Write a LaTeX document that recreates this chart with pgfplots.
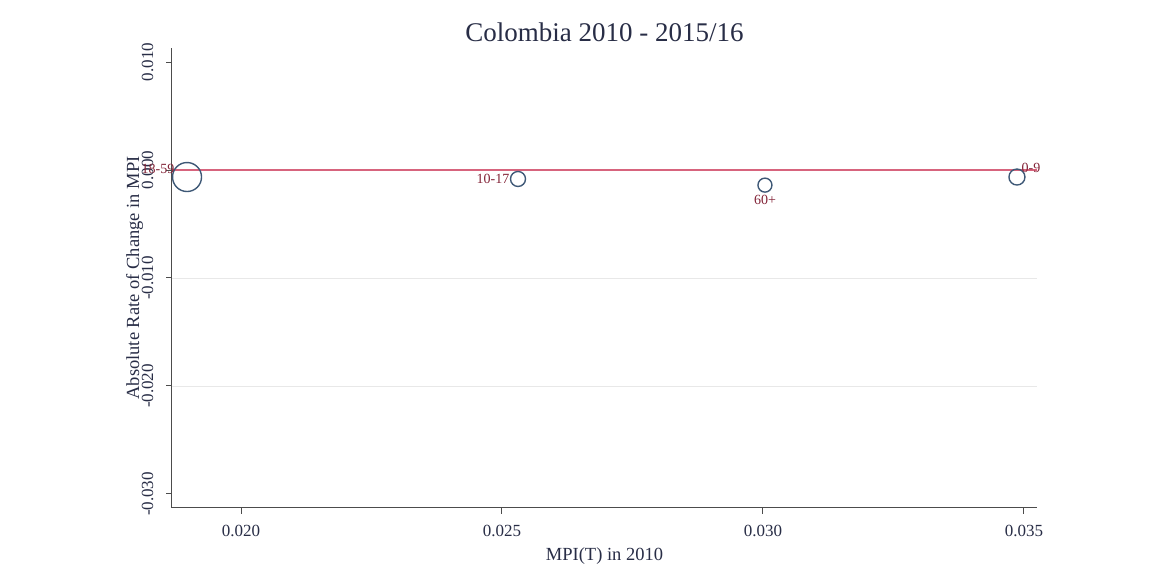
\documentclass[border=0pt]{standalone}
\usepackage{pgfplots}
\pgfplotsset{compat=1.18}
\usepackage{fontspec}
\setmainfont{Liberation Serif}
\definecolor{mk}{RGB}{62,88,118}
\definecolor{lab}{RGB}{130,35,55}
\definecolor{refl}{RGB}{215,100,125}
\definecolor{ttl}{RGB}{40,45,70}
\begin{document}
\begin{tikzpicture}
\begin{axis}[
  scale only axis,
  width=865pt, height=460pt,
  xmin=0.018678, xmax=0.03525,
  ymin=-0.0313, ymax=0.0113,
  axis x line*=bottom, axis y line*=left,
  axis line style={draw=black!70, line width=1pt},
  tick style={draw=black!70, line width=1pt},
  tick align=outside, major tick length=6pt,
  xtick={0.020,0.025,0.030,0.035},
  ytick={-0.030,-0.020,-0.010,0,0.010},
  xticklabels={0.020,0.025,0.030,0.035},
  yticklabels={-0.030,-0.020,-0.010,0.000,0.010},
  scaled x ticks=false, scaled y ticks=false,
  ticklabel style={font=\fontsize{17}{19}\selectfont, text=ttl},
  y tick label style={rotate=90, anchor=south},
  xticklabel shift=8pt, yticklabel shift=9pt,
  extra y ticks={-0.020,-0.010},
  extra y tick labels={},
  extra y tick style={grid=major, major tick length=0pt},
  grid style={draw=black!9, line width=0.8pt},
  xlabel={MPI(T) in 2010},
  ylabel={Absolute Rate of Change in MPI},
  xlabel style={font=\fontsize{18.5}{20}\selectfont, text=ttl, yshift=-4pt},
  ylabel style={font=\fontsize{18.5}{20}\selectfont, text=ttl, yshift=-32pt},
  title={Colombia 2010 - 2015/16},
  title style={font=\fontsize{27}{30}\selectfont, text=ttl, yshift=-3pt},
  clip=false,
  nodes near coords style={font=\fontsize{14}{16}\selectfont, text=lab, inner sep=1pt},
]
\addplot[refl, line width=1.6pt, forget plot] coordinates {(0.018678,0) (0.03525,0)};
% 18-59 (large)
\addplot[only marks, mark=o, mark size=14.5pt, mark options={draw=mk, line width=1.4pt},
  nodes near coords={18-59}, nodes near coords style={anchor=east, xshift=-11pt, yshift=8pt}]
  coordinates {(0.018966,-0.00065)};
% 10-17
\addplot[only marks, mark=o, mark size=7.5pt, mark options={draw=mk, line width=1.4pt},
  nodes near coords={10-17}, nodes near coords style={anchor=east, xshift=-7pt, yshift=0pt}]
  coordinates {(0.025307,-0.00083)};
% 60+
\addplot[only marks, mark=o, mark size=7pt, mark options={draw=mk, line width=1.4pt},
  nodes near coords={60+}, nodes near coords style={anchor=north, yshift=-8pt}]
  coordinates {(0.030038,-0.0014)};
% 0-9
\addplot[only marks, mark=o, mark size=8pt, mark options={draw=mk, line width=1.4pt},
  nodes near coords={0-9}, nodes near coords style={anchor=south west, xshift=3pt, yshift=3pt}]
  coordinates {(0.034866,-0.00065)};
\end{axis}
\path[use as bounding box] ([xshift=-172pt,yshift=-67pt]current axis.south west) rectangle ([xshift=114pt,yshift=48pt]current axis.north east);
\end{tikzpicture}
\end{document}
